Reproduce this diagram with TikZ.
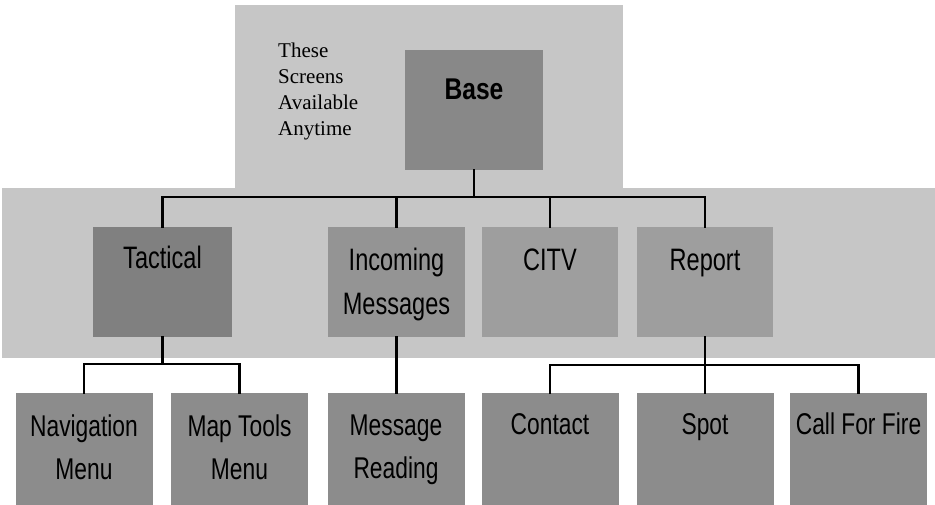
\documentclass[tikz,border=0pt]{standalone}
\usepackage{fontspec}
\setmainfont{Liberation Serif}
\newfontfamily\narrowsans{Liberation Sans}[FakeStretch=0.76]
\newfontfamily\basesans{Liberation Sans}[FakeStretch=0.82]
\definecolor{panelgray}{RGB}{198,198,198}
\definecolor{tacgray}{RGB}{128,128,128}
\definecolor{midgray}{RGB}{148,148,148}
\definecolor{citvgray}{RGB}{158,158,158}
\definecolor{lowgray}{RGB}{140,140,140}
\definecolor{basegray}{RGB}{136,136,136}
\begin{document}
\begin{tikzpicture}[x=1pt,y=-1pt,
  box/.style={fill=#1, draw=none, inner sep=0pt, minimum width=137pt, minimum height=110pt},
  lowbox/.style={fill=lowgray, draw=none, inner sep=0pt, minimum width=137pt, minimum height=112pt},
  conn/.style={draw=black, line width=2.4pt, line join=miter, line cap=rect},
  lvltext/.style={anchor=base, inner sep=0pt, align=center, text=black,
    font=\narrowsans\fontsize{31}{44}\selectfont},
  lowtext/.style={anchor=base, inner sep=0pt, align=center, text=black,
    font=\narrowsans\fontsize{30}{43}\selectfont}]
\useasboundingbox (0,0) rectangle (935,504);
% background panels
\fill[panelgray] (235,5) rectangle (623,190);
\fill[panelgray] (2,188) rectangle (935,358);
% level boxes
\node[box=basegray, minimum width=138pt, minimum height=120pt] (base) at (474,110) {};
\node[box=tacgray, minimum width=139pt] (tac) at (162.5,282) {};
\node[box=midgray] (inc) at (396.5,282) {};
\node[box=citvgray, minimum width=136pt] (citv) at (550,282) {};
\node[box=citvgray, minimum width=136pt] (rep) at (705,282) {};
\node[lowbox] (nav) at (84,449) {};
\node[lowbox] (map) at (239.5,449) {};
\node[lowbox] (msg) at (396,449) {};
\node[lowbox] (con) at (550,449) {};
\node[lowbox] (spot) at (705,449) {};
\node[lowbox] (call) at (858.5,449) {};
% texts
\node[anchor=base west, inner sep=0pt, align=left, font=\fontsize{21}{26}\selectfont] (note) at (278,135) {These\\Screens\\Available\\Anytime};
\node[anchor=base, inner sep=0pt, font=\basesans\bfseries\fontsize{30}{32}\selectfont] (baseT) at ([yshift=-50pt]base.north) {Base};
\node[lvltext] (tacT) at ([yshift=-42pt]tac.north) {Tactical};
\node[lvltext] (incT) at ([yshift=-88pt]inc.north) {Incoming\\Messages};
\node[lvltext] (citvT) at ([yshift=-44pt]citv.north) {CITV};
\node[lvltext] (repT) at ([yshift=-44pt]rep.north) {Report};
\node[lowtext] (navT) at ([yshift=-87pt]nav.north) {Navigation\\Menu};
\node[lowtext] (mapT) at ([yshift=-87pt]map.north) {Map Tools\\Menu};
\node[lowtext] (msgT) at ([yshift=-86pt]msg.north) {Message\\Reading};
\node[lowtext] (conT) at ([yshift=-42pt]con.north) {Contact};
\node[lowtext] (spotT) at ([yshift=-42pt]spot.north) {Spot};
\node[lowtext] (callT) at ([yshift=-42pt]call.north) {Call For Fire};
% connectors
\coordinate (bus) at (474,197);
\coordinate (tbus) at (0,364);
\coordinate (rbus) at (0,365);
\draw[conn] (base.south) |- (tac.north |- bus) -- (tac.north);
\draw[conn] (base.south) |- (inc.north |- bus) -- (inc.north);
\draw[conn] (base.south) |- (citv.north |- bus) -- (citv.north);
\draw[conn] (base.south) |- (rep.north |- bus) -- (rep.north);
\draw[conn] (tac.south) |- (nav.north |- tbus) -- (nav.north);
\draw[conn] (tac.south) |- (map.north |- tbus) -- (map.north);
\draw[conn] (inc.south) -- (inc.south |- msg.north);
\draw[conn] (rep.south) |- (con.north |- rbus) -- (con.north);
\draw[conn] (rep.south) -- (spot.north);
\draw[conn] (rep.south) |- (call.north |- rbus) -- (call.north);
\end{tikzpicture}
\end{document}
